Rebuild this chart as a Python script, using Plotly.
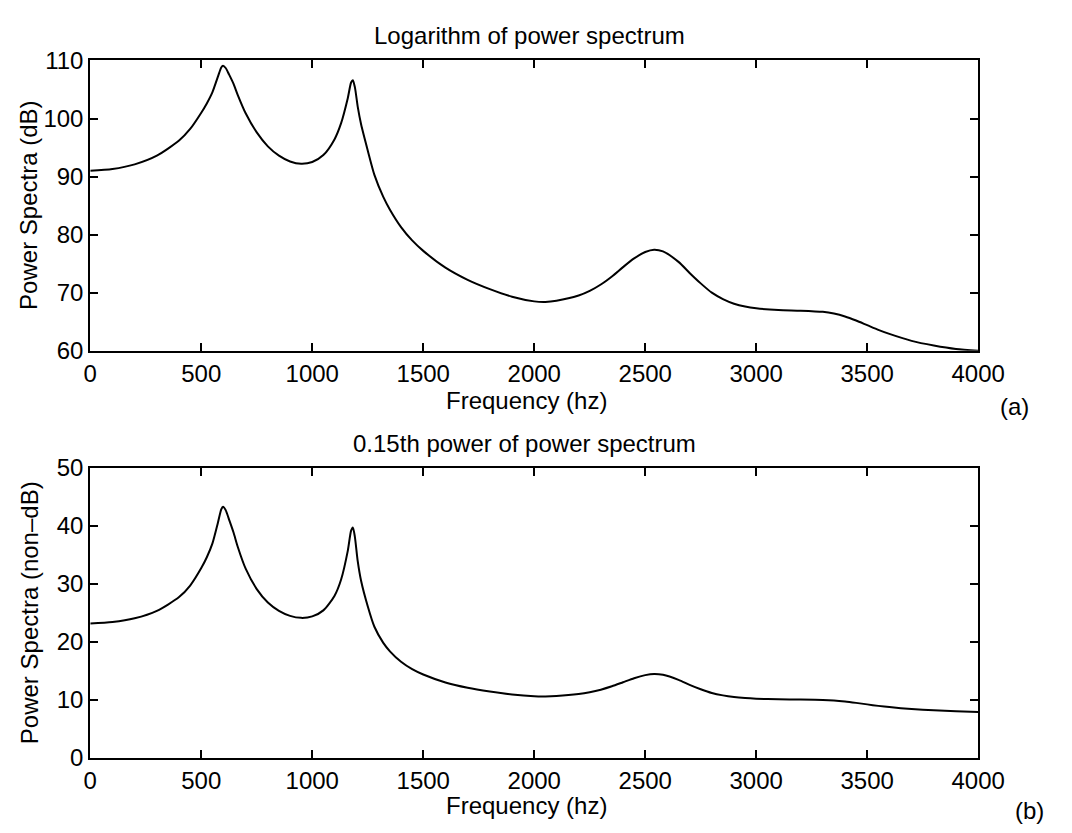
import plotly.graph_objects as go

# Frequency samples (Hz)
freq = [0, 100, 200, 300, 400, 450, 500, 525, 550, 575, 590, 598, 610, 625, 645, 665,
        700, 750, 800, 850, 900, 950, 1000, 1050, 1100, 1130, 1160, 1175, 1183, 1192,
        1205, 1220, 1250, 1280, 1320, 1350, 1400, 1450, 1500, 1600, 1700, 1800, 1900,
        2000, 2050, 2100, 2200, 2250, 2300, 2350, 2400, 2450, 2500, 2540, 2580, 2650,
        2700, 2750, 2800, 2850, 2900, 2950, 3000, 3100, 3200, 3300, 3350, 3400, 3450,
        3500, 3550, 3600, 3700, 3800, 3900, 4000]

# (a) log power spectrum, dB
power_db = [91.0, 91.3, 92.1, 93.6, 96.2, 98.2, 101.0, 102.6, 104.5, 107.2, 108.8, 109.1,
            108.7, 107.6, 106.0, 104.0, 100.9, 97.6, 95.2, 93.6, 92.6, 92.2, 92.5, 93.7,
            96.4, 99.2, 103.5, 106.2, 106.6, 105.4, 102.0, 99.0, 94.5, 90.3, 86.5, 84.3,
            81.3, 79.0, 77.2, 74.3, 72.2, 70.6, 69.3, 68.5, 68.4, 68.6, 69.5, 70.3, 71.4,
            72.8, 74.4, 75.9, 77.0, 77.4, 77.1, 75.3, 73.4, 71.6, 70.0, 68.9, 68.1, 67.6,
            67.3, 67.0, 66.9, 66.7, 66.4, 65.9, 65.2, 64.4, 63.6, 62.9, 61.7, 60.9, 60.3,
            60.0]

# (b) 0.15th power of power spectrum (non-dB)
power_015 = [23.17, 23.42, 24.07, 25.35, 27.73, 29.72, 32.73, 34.59, 36.94, 40.55, 42.85,
             43.31, 42.71, 41.11, 38.90, 36.31, 32.62, 29.11, 26.79, 25.35, 24.49, 24.15,
             24.40, 25.44, 27.93, 30.76, 35.69, 39.17, 39.72, 38.11, 33.88, 30.55, 26.16,
             22.62, 19.84, 18.39, 16.58, 15.31, 14.39, 13.02, 12.11, 11.46, 10.95, 10.65,
             10.62, 10.69, 11.03, 11.34, 11.78, 12.36, 13.06, 13.76, 14.29, 14.49, 14.34,
             13.48, 12.62, 11.86, 11.22, 10.80, 10.51, 10.33, 10.22, 10.12, 10.08, 10.01,
             9.91, 9.74, 9.51, 9.25, 8.99, 8.78, 8.45, 8.22, 8.05, 7.94]

x_ticks = [0, 500, 1000, 1500, 2000, 2500, 3000, 3500, 4000]
y_ticks_a = [60, 70, 80, 90, 100, 110]
y_ticks_b = [0, 10, 20, 30, 40, 50]

W, H = 1072, 833
FONT = "Liberation Sans, Arial, Helvetica, sans-serif"
FS = 24

def px_x(p):
    return p / W

def px_y(p):
    return 1 - p / H

fig = go.Figure()
fig.add_trace(go.Scatter(x=freq, y=power_db, mode="lines", xaxis="x", yaxis="y",
                         line=dict(color="black", width=2, shape="spline", smoothing=0.7),
                         showlegend=False, hoverinfo="skip"))
fig.add_trace(go.Scatter(x=freq, y=power_015, mode="lines", xaxis="x2", yaxis="y2",
                         line=dict(color="black", width=2, shape="spline", smoothing=0.7),
                         showlegend=False, hoverinfo="skip"))

axis_common = dict(showline=True, linecolor="black", linewidth=2, mirror="ticks",
                   ticks="inside", ticklen=8, tickwidth=1.5, tickcolor="black",
                   showgrid=False, zeroline=False,
                   tickfont=dict(family=FONT, size=FS, color="black"))

xdom = [px_x(86), px_x(1003)]
fig.update_layout(
    width=W, height=H, margin=dict(l=0, r=0, t=0, b=0),
    paper_bgcolor="white", plot_bgcolor="white",
    font=dict(family=FONT, size=FS, color="black"),
    xaxis=dict(domain=xdom, range=[0, 4000], tickvals=x_ticks, anchor="y", **axis_common),
    yaxis=dict(domain=[px_y(348), px_y(48)], range=[60, 110], tickvals=y_ticks_a,
               anchor="x", **axis_common),
    xaxis2=dict(domain=xdom, range=[0, 4000], tickvals=x_ticks, anchor="y2", **axis_common),
    yaxis2=dict(domain=[px_y(769), px_y(469)], range=[0, 50], tickvals=y_ticks_b,
                anchor="x2", **axis_common),
)

def ann(text, x, y, **kw):
    fig.add_annotation(text=text, x=px_x(x), y=px_y(y), xref="paper", yref="paper",
                       showarrow=False, xanchor="center", yanchor="middle",
                       borderpad=0,
                       font=dict(family=FONT, size=FS, color="black"), **kw)

ann("Logarithm of power spectrum", 540, 22)
ann("Frequency (hz)", 536, 399)
ann("(a)", 1040, 406)
ann("Power Spectra (dB)", 22, 198, textangle=-90)

ann("0.15th power of power spectrum", 534, 444)
ann("Frequency (hz)", 536, 818)
ann("(b)", 1056, 823)
ann("Power Spectra (non\u2013dB)", 24, 619, textangle=-90)

fig.write_html("out.html")
